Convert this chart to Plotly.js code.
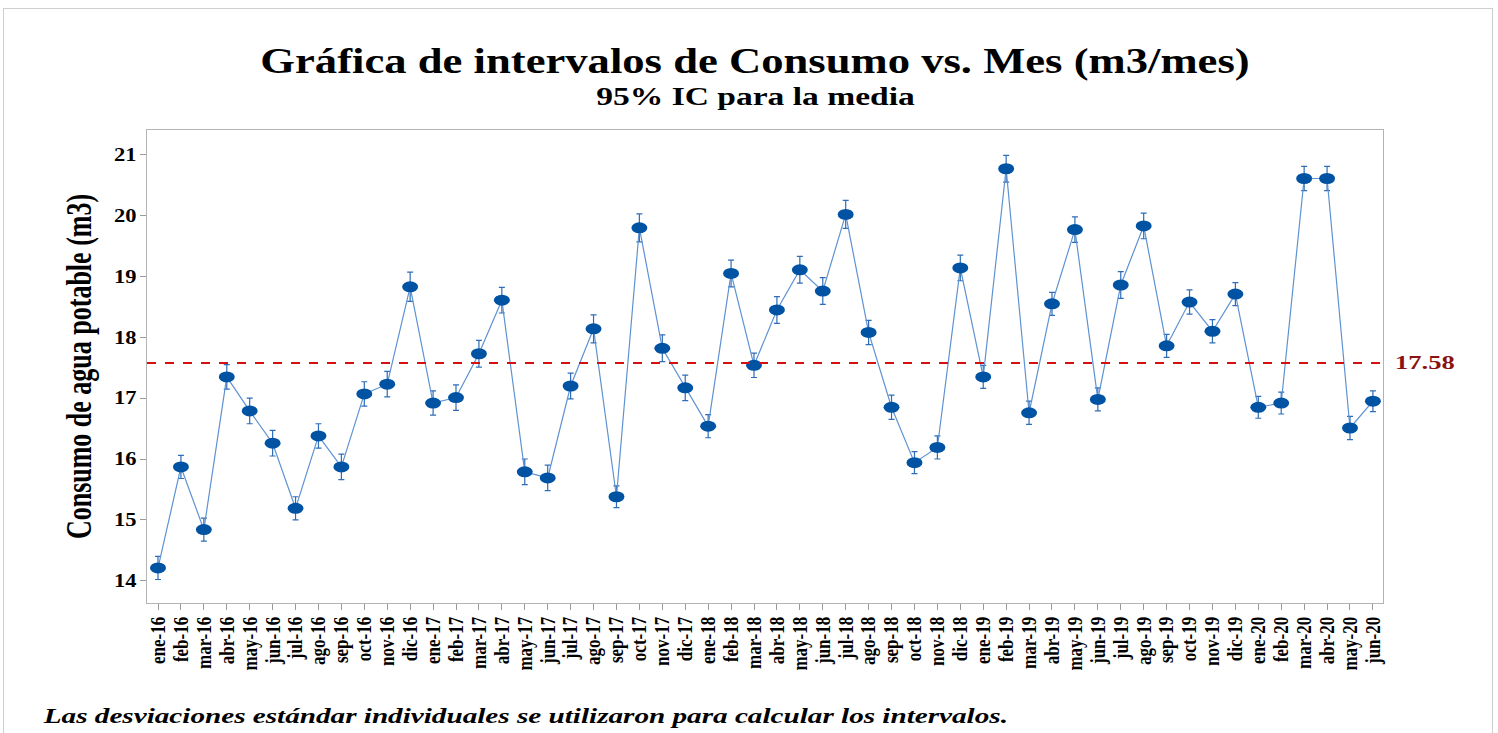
<!DOCTYPE html>
<html>
<head>
<meta charset="utf-8">
<script src="https://cdn.plot.ly/plotly-3.0.1.min.js"></script>
<style>
html,body{margin:0;padding:0;background:#fff;}
#chart{width:1498px;height:733px;}
#frame{position:absolute;left:3px;top:8px;width:1488px;height:740px;border:1px solid #cfcfcf;pointer-events:none;}
</style>
</head>
<body>
<div id="chart"></div>
<div id="frame"></div>
<script>
const months = ["ene-16","feb-16","mar-16","abr-16","may-16","jun-16","jul-16","ago-16","sep-16","oct-16","nov-16","dic-16",
"ene-17","feb-17","mar-17","abr-17","may-17","jun-17","jul-17","ago-17","sep-17","oct-17","nov-17","dic-17",
"ene-18","feb-18","mar-18","abr-18","may-18","jun-18","jul-18","ago-18","sep-18","oct-18","nov-18","dic-18",
"ene-19","feb-19","mar-19","abr-19","may-19","jun-19","jul-19","ago-19","sep-19","oct-19","nov-19","dic-19",
"ene-20","feb-20","mar-20","abr-20","may-20","jun-20"];
const meanConsumo = [14.21,15.87,14.84,17.35,16.79,16.26,15.19,16.38,15.87,17.07,17.23,18.83,
16.92,17.01,17.73,18.61,15.79,15.69,17.20,18.14,15.38,19.80,17.82,17.17,
16.54,19.05,17.54,18.45,19.11,18.76,20.02,18.08,16.85,15.94,16.19,19.14,
17.35,20.77,16.76,18.55,19.77,16.98,18.86,19.83,17.86,18.58,18.10,18.71,
16.85,16.92,20.61,20.61,16.51,16.95];
const ciHalf = [0.19,0.19,0.19,0.20,0.21,0.21,0.19,0.20,0.21,0.20,0.21,0.24,
0.20,0.21,0.22,0.21,0.21,0.21,0.21,0.23,0.18,0.23,0.22,0.21,
0.19,0.22,0.20,0.22,0.22,0.22,0.23,0.20,0.20,0.18,0.19,0.21,
0.19,0.22,0.19,0.19,0.21,0.19,0.22,0.21,0.19,0.20,0.19,0.19,
0.18,0.18,0.20,0.20,0.19,0.17];
const overallMean = 17.58;
const yTicks = [14,15,16,17,18,19,20,21];

const serif = "Liberation Serif, Times New Roman, serif";

const trace = {
  type: "scatter",
  mode: "lines+markers",
  x: months,
  y: meanConsumo,
  line: {color: "#5e92d2", width: 1.2},
  marker: {color: "#0052a3", size: 11, symbol: "circle"},
  error_y: {type: "data", array: ciHalf, visible: true, color: "#2f6db8", thickness: 1.2, width: 3},
  hoverinfo: "x+y",
  showlegend: false
};

const layout = {
  width: 1498, height: 733,
  paper_bgcolor: "#ffffff", plot_bgcolor: "#ffffff",
  margin: {l: 147, r: 115, t: 130, b: 130},
  title: {
    text: "<b>Gráfica de intervalos de Consumo vs. Mes (m3/mes)</b>",
    font: {family: serif, size: 36, color: "#000"},
    x: 0.504, xanchor: "center", xref: "container",
    y: 0.917, yanchor: "middle", yref: "container"
  },
  xaxis: {
    type: "category",
    range: [-0.48, 53.44],
    tickangle: -90,
    tickfont: {family: serif, size: 17, color: "#000", weight: "bold"},
    ticks: "outside", ticklen: 6, tickcolor: "#9a9a9a",
    showline: true, linecolor: "#b4b4b4", linewidth: 1, mirror: true,
    showgrid: false, zeroline: false, fixedrange: true
  },
  yaxis: {
    range: [13.634, 21.407],
    tickvals: yTicks,
    ticktext: yTicks.map(String),
    tickfont: {family: serif, size: 18, color: "#000", weight: "bold"},
    ticks: "outside", ticklen: 6, tickcolor: "#9a9a9a",
    showline: true, linecolor: "#b4b4b4", linewidth: 1, mirror: true,
    showgrid: false, zeroline: false, fixedrange: true,
    title: {text: "<b>Consumo de agua potable (m3)</b>", font: {family: serif, size: 26, color: "#000"}, standoff: 22}
  },
  shapes: [{
    type: "line", xref: "paper", x0: 0, x1: 1, yref: "y", y0: overallMean, y1: overallMean,
    line: {color: "#d41010", width: 2, dash: "dash"}
  }],
  annotations: [
    {text: "<b>95% IC para la media</b>", xref: "paper", yref: "paper", x: 0.4927, y: 1, yshift: 34,
     xanchor: "center", yanchor: "middle", showarrow: false, font: {family: serif, size: 26, color: "#000"}},
    {text: "<b>" + overallMean.toFixed(2) + "</b>", xref: "paper", yref: "y", x: 1, y: overallMean, xshift: 10,
     xanchor: "left", yanchor: "middle", showarrow: false, font: {family: serif, size: 19, color: "#8a1212"}},
    {text: "<b><i>Las desviaciones estándar individuales se utilizaron para calcular los intervalos.</i></b>",
     xref: "paper", yref: "paper", x: 0, xshift: -107, y: 0, yshift: -113, xanchor: "left", yanchor: "middle",
     showarrow: false, font: {family: serif, size: 21, color: "#000"}}
  ]
};

// horizontal stretch (the reference picture is horizontally stretched)
function stretch(el, k, anchor) {
  if (!el) return;
  const r = el.getBoundingClientRect();
  const ctm = el.parentNode.getScreenCTM();
  const sx = anchor === "left" ? r.left : anchor === "right" ? r.right : (r.left + r.right) / 2;
  const X = sx - ctm.e;
  const t = el.getAttribute("transform") || "";
  el.setAttribute("transform", `translate(${X},0) scale(${k},1) translate(${-X},0) ${t}`);
}

Plotly.newPlot("chart", [trace], layout, {displayModeBar: false, staticPlot: true}).then(function (gd) {
  stretch(gd.querySelector(".gtitle"), 1.24, "center");
  const ann = gd.querySelectorAll(".annotation-text");
  stretch(ann[0], 1.29, "center");
  stretch(ann[1], 1.4, "left");
  stretch(ann[2], 1.39, "left");
  gd.querySelectorAll(".ytick text").forEach(function (el) { stretch(el, 1.25, "right"); });
  gd.querySelectorAll(".xtick text").forEach(function (el) { stretch(el, 1.25, "center"); });
  stretch(gd.querySelector(".ytitle"), 1.4, "center");
  gd.querySelectorAll(".scatterlayer .points path").forEach(function (p) {
    const t = p.getAttribute("transform") || "";
    p.setAttribute("transform", t + " scale(1.45,1)");
  });
});
</script>
</body>
</html>
